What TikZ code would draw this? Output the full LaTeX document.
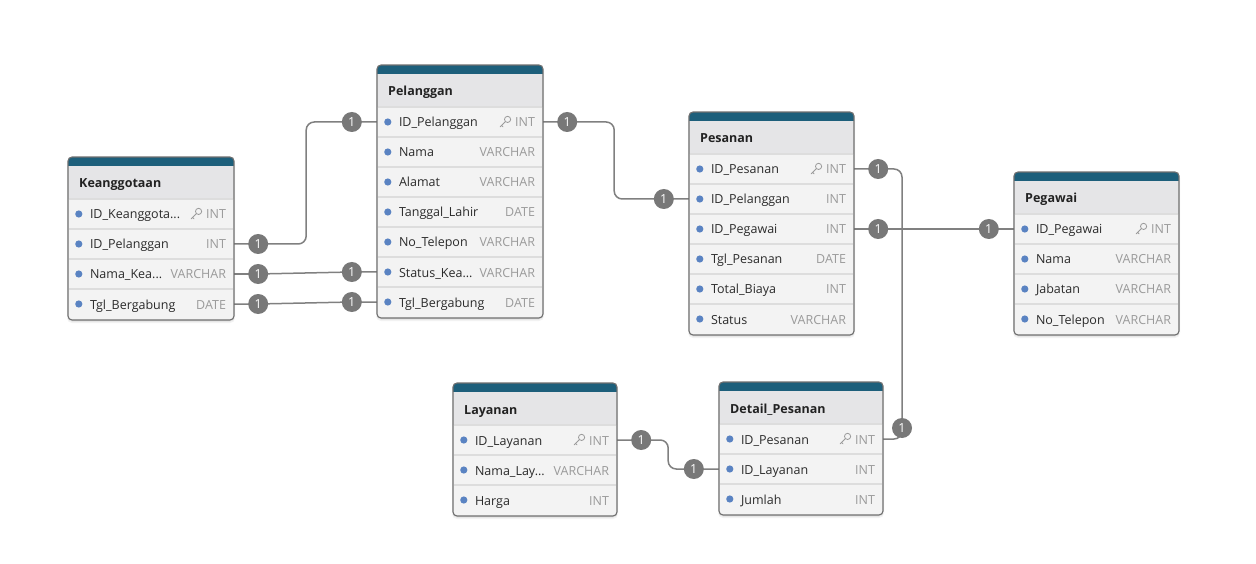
\documentclass[tikz,border=0pt]{standalone}
\usepackage{fontspec}
\setmainfont{Open Sans}
\usetikzlibrary{calc}
\pgfdeclarelayer{background}
\pgfsetlayers{background,main}
\definecolor{barblue}{HTML}{1D5F7B}
\definecolor{headgray}{HTML}{E5E5E7}
\definecolor{rowgray}{HTML}{F3F3F3}
\definecolor{sepgray}{HTML}{DDDDDD}
\definecolor{bordergray}{HTML}{6F6F6F}
\definecolor{dotblue}{HTML}{5A83C2}
\definecolor{fieldcol}{HTML}{2B2B2B}
\definecolor{titlecol}{HTML}{222222}
\definecolor{typecol}{HTML}{9A9A9A}
\definecolor{badgegray}{HTML}{787878}
\definecolor{linegray}{HTML}{808080}

\newcommand\ertable[6]{%
  \pgfmathsetmacro\tbh{43+30*#5}%
  \fill[black, opacity=0.05, rounded corners=5pt] (#2-1,#3+1) rectangle (#2+#4+1,#3+\tbh+3);
  \fill[black, opacity=0.07, rounded corners=4pt] (#2,#3+1) rectangle (#2+#4,#3+\tbh+1.5);
  \begin{scope}
    \clip[rounded corners=4pt] (#2,#3) rectangle (#2+#4,#3+\tbh);
    \fill[rowgray] (#2,#3) rectangle (#2+#4,#3+\tbh);
    \fill[headgray] (#2,#3) rectangle (#2+#4,#3+42);
    \fill[barblue] (#2,#3) rectangle (#2+#4,#3+9);
  \end{scope}
  \draw[tblborder] (#2,#3) rectangle (#2+#4,#3+\tbh);
  \node[titletxt, anchor=west] (#1-title) at (#2+11,#3+26) {#6};
}
\newcommand\keyicon[1]{%
  \begin{scope}[shift={(#1)}]
    \draw[typecol, line width=0.8pt] (2.6,-2.6) circle (3.1pt);
    \draw[typecol, line width=0.8pt, line cap=round] (0.4,-0.4) -- (-4.8,4.8) (-3.4,3.4) -- (-2,4.8);
  \end{scope}
}
\newcommand\errow[8]{%
  \pgfmathsetmacro\ry{#4+57+30*(#2-1)}%
  \node[rowbox, minimum width=#5pt] (#1-r#2) at (#3+#5/2, \ry) {};
  \draw[sepline] (#3+1, \ry-15) -- (#3+#5-1, \ry-15);
  \fill[dotblue] ([xshift=11pt]#1-r#2.west) circle (3.6pt);
  \node[fieldtxt, anchor=west] (#1-f#2) at ([xshift=22pt]#1-r#2.west) {#6};
  \node[typetxt, anchor=east] (#1-t#2) at ([xshift=-8pt]#1-r#2.east) {#7};
  \ifnum#8=1 \keyicon{[xshift=-10pt]#1-t#2.west}\fi
}

\begin{document}
\begin{tikzpicture}[x=1pt,y=-1pt,
  tblborder/.style={draw=bordergray, line width=1.1pt, rounded corners=4pt},
  rowbox/.style={rectangle, draw=none, inner sep=0pt, minimum height=30pt},
  sepline/.style={draw=sepgray, line width=1.4pt},
  titletxt/.style={font=\fontsize{12.5}{14}\selectfont\bfseries, text=titlecol, inner sep=0pt, text height=12pt, text depth=2pt},
  fieldtxt/.style={font=\fontsize{12.5}{14}\selectfont, text=fieldcol, inner sep=0pt, text height=12pt, text depth=2pt},
  typetxt/.style={font=\fontsize{12.5}{14}\selectfont, text=typecol, inner sep=0pt, text height=12pt, text depth=2pt},
  badge/.style={circle, fill=badgegray, text=white, minimum size=20pt, inner sep=0pt, font=\fontsize{12.5}{12}\selectfont},
  conn/.style={draw=linegray, line width=1.5pt, rounded corners=8pt}
]
\begin{pgfonlayer}{background}
\fill[white] (0,0) rectangle (1256,564);
\end{pgfonlayer}
\useasboundingbox (0,0) rectangle (1256,564);

% Keanggotaan
\ertable{k}{68}{157}{166}{4}{Keanggotaan}
\errow{k}{1}{68}{157}{166}{ID\_Keanggota...}{INT}{1}
\errow{k}{2}{68}{157}{166}{ID\_Pelanggan}{INT}{0}
\errow{k}{3}{68}{157}{166}{Nama\_Kea...}{VARCHAR}{0}
\errow{k}{4}{68}{157}{166}{Tgl\_Bergabung}{DATE}{0}

% Pelanggan
\ertable{p}{377}{65}{166}{7}{Pelanggan}
\errow{p}{1}{377}{65}{166}{ID\_Pelanggan}{INT}{1}
\errow{p}{2}{377}{65}{166}{Nama}{VARCHAR}{0}
\errow{p}{3}{377}{65}{166}{Alamat}{VARCHAR}{0}
\errow{p}{4}{377}{65}{166}{Tanggal\_Lahir}{DATE}{0}
\errow{p}{5}{377}{65}{166}{No\_Telepon}{VARCHAR}{0}
\errow{p}{6}{377}{65}{166}{Status\_Kea...}{VARCHAR}{0}
\errow{p}{7}{377}{65}{166}{Tgl\_Bergabung}{DATE}{0}

% Pesanan
\ertable{s}{689}{112}{165}{6}{Pesanan}
\errow{s}{1}{689}{112}{165}{ID\_Pesanan}{INT}{1}
\errow{s}{2}{689}{112}{165}{ID\_Pelanggan}{INT}{0}
\errow{s}{3}{689}{112}{165}{ID\_Pegawai}{INT}{0}
\errow{s}{4}{689}{112}{165}{Tgl\_Pesanan}{DATE}{0}
\errow{s}{5}{689}{112}{165}{Total\_Biaya}{INT}{0}
\errow{s}{6}{689}{112}{165}{Status}{VARCHAR}{0}

% Pegawai
\ertable{g}{1014}{172}{165}{4}{Pegawai}
\errow{g}{1}{1014}{172}{165}{ID\_Pegawai}{INT}{1}
\errow{g}{2}{1014}{172}{165}{Nama}{VARCHAR}{0}
\errow{g}{3}{1014}{172}{165}{Jabatan}{VARCHAR}{0}
\errow{g}{4}{1014}{172}{165}{No\_Telepon}{VARCHAR}{0}

% Layanan
\ertable{l}{453}{383}{164}{3}{Layanan}
\errow{l}{1}{453}{383}{164}{ID\_Layanan}{INT}{1}
\errow{l}{2}{453}{383}{164}{Nama\_Lay...}{VARCHAR}{0}
\errow{l}{3}{453}{383}{164}{Harga}{INT}{0}

% Detail_Pesanan
\ertable{d}{719}{382}{164}{3}{Detail\_Pesanan}
\errow{d}{1}{719}{382}{164}{ID\_Pesanan}{INT}{1}
\errow{d}{2}{719}{382}{164}{ID\_Layanan}{INT}{0}
\errow{d}{3}{719}{382}{164}{Jumlah}{INT}{0}

% Badges
\node[badge] (b1) at ([xshift=24pt]k-r2.east) {1};
\node[badge] (b2) at ([xshift=-25pt]p-r1.west) {1};
\node[badge] (b3) at ([xshift=24pt]k-r3.east) {1};
\node[badge] (b4) at ([xshift=-25pt]p-r6.west) {1};
\node[badge] (b5) at ([xshift=24pt]k-r4.east) {1};
\node[badge] (b6) at ([xshift=-25pt]p-r7.west) {1};
\node[badge] (b7) at ([xshift=24pt]p-r1.east) {1};
\node[badge] (b8) at ([xshift=-25pt]s-r2.west) {1};
\node[badge] (b9) at ([xshift=24pt]s-r1.east) {1};
\node[badge] (b10) at (902,428) {1};
\node[badge] (b11) at ([xshift=24pt]s-r3.east) {1};
\node[badge] (b12) at ([xshift=-25pt]g-r1.west) {1};
\node[badge] (b13) at ([xshift=24pt]l-r1.east) {1};
\node[badge] (b14) at ([xshift=-25pt]d-r2.west) {1};

% Connectors
\begin{pgfonlayer}{background}
\draw[conn] (k-r2.east) -- (b1.center) -- ++(48,0) |- (b2.center) -- (p-r1.west);
\draw[conn] (k-r3.east) -- (b3.center) -- (b4.center) -- (p-r6.west);
\draw[conn] (k-r4.east) -- (b5.center) -- (b6.center) -- (p-r7.west);
\draw[conn] (p-r1.east) -- (b7.center) -- ++(47,0) |- (b8.center) -- (s-r2.west);
\draw[conn] (s-r1.east) -- (b9.center) -| (b10.center) |- (d-r1.east);
\draw[conn] (s-r3.east) -- (b11.center) -- (b12.center) -- (g-r1.west);
\draw[conn] (l-r1.east) -- (b13.center) -- ++(27,0) |- (b14.center) -- (d-r2.west);
\end{pgfonlayer}
\end{tikzpicture}
\end{document}
